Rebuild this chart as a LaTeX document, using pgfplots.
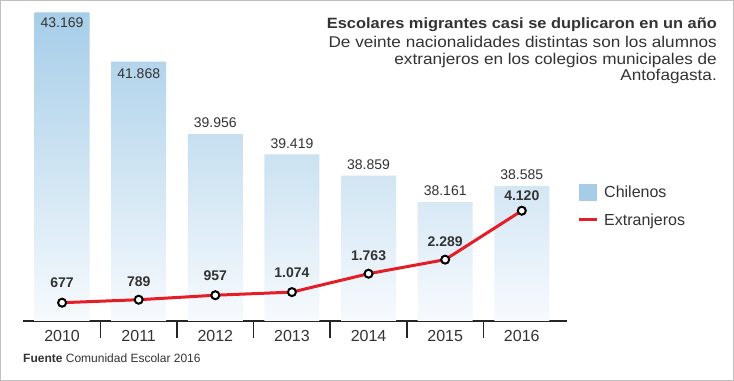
\documentclass[border=0pt]{standalone}
\usepackage{pgfplots}
\pgfplotsset{compat=1.18}
\usepackage{pgfplotstable}
\usepackage{fontspec}
\setmainfont{Liberation Sans}
\newfontfamily\widefont[FakeStretch=1.1]{Liberation Sans}

\definecolor{barblue}{RGB}{166,205,232}
\definecolor{barlow}{RGB}{247,250,253}
\definecolor{redline}{RGB}{228,30,38}
\definecolor{txt}{RGB}{51,51,51}
\definecolor{framec}{RGB}{192,192,192}

\pgfplotstableread{
x y dy
0 43169 -10
1 41868 -11.6
2 39956 11
3 39419 11
4 38859 11
5 38161 11
6 38585 11
}\chilenos

\pgfplotstableread{
x y dy
0 677 20.4
1 789 18.3
2 957 19.3
3 1074 19
4 1763 18.3
5 2289 18.3
6 4120 14.7
}\extranjeros

\pgfplotsset{
  common/.style={
    at={(23bp,60.2bp)}, anchor=south west,
    scale only axis, width=544bp, height=308.5bp,
    xmin=-0.51, xmax=6.59, ymin=0,
    /pgf/number format/.cd, 1000 sep={.}, fixed, precision=0, assume math mode=true,
  },
}

\begin{document}
\begin{tikzpicture}
\useasboundingbox (0,0) rectangle (734bp,381bp);
\fill[white] (0,0) rectangle (734bp,381bp);
\begin{axis}[common,
  ymax=8140, clip=false,
  axis x line*=bottom, hide y axis,
  axis line style={black!85, line width=1.5bp},
  xtick={0,...,6},
  xticklabels={2010,2011,2012,2013,2014,2015,2016},
  minor xtick={0.5,1.5,...,5.5},
  major tick length=0pt,
  minor tick length=17bp,
  tick align=outside,
  minor tick style={black!85, line width=1.5bp},
  xticklabel style={font=\fontsize{16bp}{19bp}\selectfont, text=txt, anchor=center, yshift=-15bp},
]
\addplot[ybar, bar width=55bp, draw=none, top color=barblue, bottom color=barlow,
  nodes near coords, point meta=\thisrow{y},
  visualization depends on={\thisrow{dy} \as \dy},
  every node near coord/.append style={anchor=center, yshift=\dy bp, text=txt,
    font=\fontsize{14bp}{16bp}\selectfont}]
  table[x=x, y expr=\thisrow{y}-35029] {\chilenos};
\end{axis}
\begin{axis}[common,
  ymax=11546,
  hide axis,
]
\addplot[redline, line width=3bp, mark=*, mark size=4bp,
  mark options={fill=white, draw=black, line width=2bp},
  nodes near coords, point meta=\thisrow{y},
  visualization depends on={\thisrow{dy} \as \dy},
  every node near coord/.append style={anchor=center, yshift=\dy bp, text=txt,
    font=\fontsize{14bp}{16bp}\selectfont\bfseries}]
  table[x=x, y=y] {\extranjeros};
\end{axis}
% title
\node[anchor=base east, inner sep=0, text=txt, font=\widefont\fontsize{14.9bp}{17bp}\selectfont\bfseries] at (717bp,352bp) {Escolares migrantes casi se duplicaron en un año};
\node[anchor=base east, inner sep=0, text=txt, font=\widefont\fontsize{15.6bp}{17bp}\selectfont] at (717bp,333.3bp) {De veinte nacionalidades distintas son los alumnos};
\node[anchor=base east, inner sep=0, text=txt, font=\widefont\fontsize{15.6bp}{17bp}\selectfont] at (717bp,316.7bp) {extranjeros en los colegios municipales de};
\node[anchor=base east, inner sep=0, text=txt, font=\widefont\fontsize{15.6bp}{17bp}\selectfont] at (717bp,300bp) {Antofagasta.};
% legend
\fill[barblue] (579bp,180bp) rectangle (597bp,196.5bp);
\node[anchor=base west, inner sep=0, text=txt, font=\fontsize{16bp}{19bp}\selectfont] at (604bp,183.3bp) {Chilenos};
\draw[redline, line width=3bp] (579bp,161bp) -- (597bp,161bp);
\node[anchor=base west, inner sep=0, text=txt, font=\fontsize{16bp}{19bp}\selectfont] at (604bp,155.3bp) {Extranjeros};
% source
\node[anchor=base west, inner sep=0, text=txt, font=\fontsize{12bp}{14bp}\selectfont] at (23bp,19bp) {\textbf{Fuente} Comunidad Escolar 2016};
% frame
\draw[framec, line width=1bp] (0.5bp,0.5bp) rectangle (733.5bp,380.5bp);
\end{tikzpicture}
\end{document}
